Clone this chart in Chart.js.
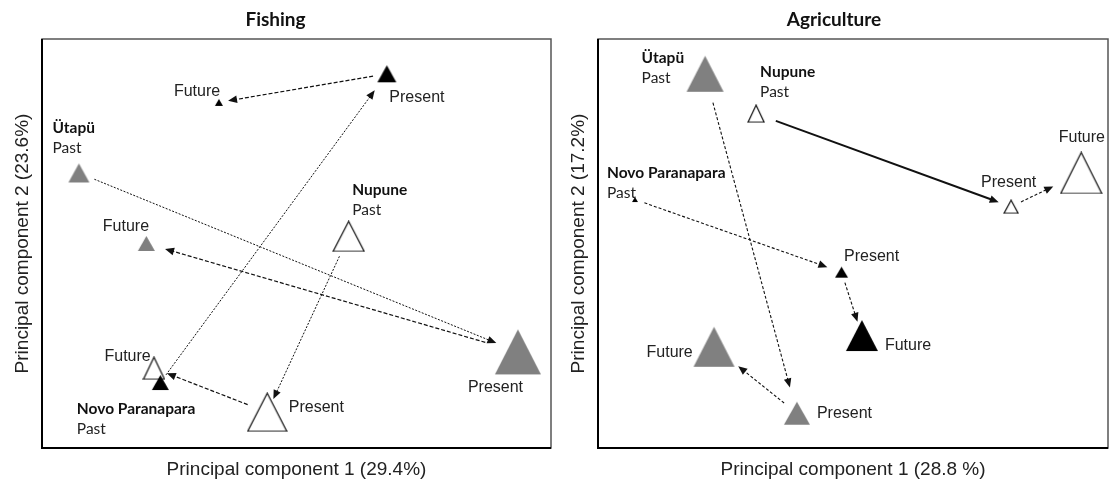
<!DOCTYPE html>
<html>
<head>
<meta charset="utf-8">
<script src="https://cdn.jsdelivr.net/npm/chart.js@4.4.1/dist/chart.umd.min.js"></script>
<style>
  body { margin: 0; background: #fff; }
  #wrap { position: relative; width: 1113px; height: 481px; }
  #fishing { position: absolute; left: 0; top: 0; }
  #agri { position: absolute; left: 556px; top: 0; }
</style>
</head>
<body>
<div id="wrap">
  <canvas id="fishing" width="556" height="481"></canvas>
  <canvas id="agri" width="557" height="481"></canvas>
</div>
<script>
// Stages and sites
const stages = ['Past', 'Present', 'Future'];
const sites = ['Novo Paranapara', 'Ütapü', 'Nupune'];

// Fishing - PCA scores, order Past, Present, Future
const fishNovoPC1 = [-1.07, 0.71, -0.61];
const fishNovoPC2 = [-1.36, 1.66, 1.38];
const fishUtapuPC1 = [-1.71, 1.74, -1.18];
const fishUtapuPC2 = [0.69, -1.06, 0.00];
const fishNupunePC1 = [0.41, -0.23, -1.12];
const fishNupunePC2 = [0.07, -1.65, -1.22];

// Agriculture - PCA scores, order Past, Present, Future
const agriNovoPC1 = [-1.71, -0.09, 0.07];
const agriNovoPC2 = [0.43, -0.28, -0.90];
const agriUtapuPC1 = [-1.16, -0.44, -1.09];
const agriUtapuPC2 = [1.66, -1.66, -1.01];
const agriNupunePC1 = [-0.76, 1.24, 1.79];
const agriNupunePC2 = [1.27, 0.36, 0.69];

// ---- looks ----
const siteFill = ['#000000', '#808080', '#ffffff'];
const siteStroke = [null, null, '#111111'];

// triangle [width, height] px, per site then stage
const fishTri = [
    [[17, 15], [19, 17], [8, 7]],
    [[21, 19], [46, 45], [17, 15]],
    [[31, 30], [39, 38], [21, 22]]
];
const agriTri = [
    [[6, 5], [13, 11], [32, 31]],
    [[37, 36], [26, 23], [41, 40]],
    [[16, 17], [14, 13], [41, 41]]
];

// stage label offset from the point [dx, dy]; site name sits 20px above "Past"
const fishLab = [
    [[-83.5, 46.5], [2.5, 23.5], [-45, -10.5]],
    [[-26.5, -24.5], [-50, 35.5], [-43.5, -16.5]],
    [[3.5, -26], [21.5, -5], [-49.5, -12]]
];
const agriLab = [
    [[-28, -7], [2.5, -16], [23, 10.5]],
    [[-63.5, 4], [20, 0.5], [-67.5, 6]],
    [[4, -21.5], [-30, -24.5], [-22.5, -35.5]]
];

// arrow gaps [from start, from end] for Past->Present and Present->Future
const fishGap = [
    [[9.5, 20.5], [14, 9.3]],
    [[16.7, 23.3], [34, 19.5]],
    [[22, 14.6], [21, 13.8]]
];
const agriGap = [
    [[10, 15], [11, 14.5]],
    [[30, 26.7], [16.4, 31]],
    [[21, 13.2], [11, 31]]
];
const fishDash = [[[2, 1.5], [4, 2]], [[2, 1.5], [4, 2]], [[2, 1.5], [4, 2]]];
const agriDash = [[[3, 2], [3, 2]], [[3, 2], [3, 2]], [[], [3, 2]]];
const fishLw = [[1, 1.2], [1, 1.2], [1, 1.2]];
const agriLw = [[1.1, 1.1], [1.1, 1.1], [2, 1.1]];

function triangle(w, h, fill, stroke) {
    const c = document.createElement('canvas');
    c.width = w + 2;
    c.height = h + 2;
    const g = c.getContext('2d');
    g.beginPath();
    g.moveTo(1 + w / 2, 1);
    g.lineTo(1 + w, 1 + h);
    g.lineTo(1, 1 + h);
    g.closePath();
    g.fillStyle = fill;
    g.fill();
    if (stroke) {
        g.strokeStyle = stroke;
        g.lineWidth = 1.2;
        g.stroke();
    }
    return c;
}

function arrow(ctx, x0, y0, x1, y1, g0, g1, dash, lw) {
    const dx = x1 - x0, dy = y1 - y0;
    const len = Math.hypot(dx, dy);
    const ux = dx / len, uy = dy / len;
    const sx = x0 + ux * g0, sy = y0 + uy * g0;
    const tx = x1 - ux * g1, ty = y1 - uy * g1;
    const head = 9, half = 3.8;
    ctx.save();
    ctx.strokeStyle = '#111';
    ctx.lineWidth = lw;
    ctx.setLineDash(dash);
    ctx.beginPath();
    ctx.moveTo(sx, sy);
    ctx.lineTo(tx - ux * head * 0.7, ty - uy * head * 0.7);
    ctx.stroke();
    ctx.setLineDash([]);
    ctx.fillStyle = '#111';
    ctx.beginPath();
    ctx.moveTo(tx, ty);
    ctx.lineTo(tx - ux * head - uy * half, ty - uy * head + ux * half);
    ctx.lineTo(tx - ux * head + uy * half, ty - uy * head - ux * half);
    ctx.closePath();
    ctx.fill();
    ctx.restore();
}

// arrows between the stages, drawn under the triangles
const arrowPlugin = {
    id: 'arrows',
    beforeDatasetsDraw(chart, args, opts) {
        const ctx = chart.ctx;
        chart.data.datasets.forEach((ds, s) => {
            const pts = chart.getDatasetMeta(s).data;
            for (let i = 0; i < pts.length - 1; i++) {
                arrow(ctx, pts[i].x, pts[i].y, pts[i + 1].x, pts[i + 1].y,
                    opts.gap[s][i][0], opts.gap[s][i][1], opts.dash[s][i], opts.lw[s][i]);
            }
        });
    }
};

// site names and stage words next to the triangles
const labelPlugin = {
    id: 'stageLabels',
    afterDatasetsDraw(chart, args, opts) {
        const ctx = chart.ctx;
        ctx.save();
        ctx.textAlign = 'left';
        ctx.textBaseline = 'middle';
        chart.data.datasets.forEach((ds, s) => {
            const pts = chart.getDatasetMeta(s).data;
            pts.forEach((p, i) => {
                const [dx, dy] = opts.off[s][i];
                if (i === 0) {
                    ctx.fillStyle = '#111';
                    ctx.font = 'bold 15.5px Lato';
                    ctx.fillText(sites[s], p.x + dx, p.y + dy - 20);
                    ctx.font = '15.5px Lato';
                    ctx.fillStyle = '#222';
                    ctx.fillText(stages[i], p.x + dx, p.y + dy);
                } else {
                    ctx.font = '16px "Liberation Sans"';
                    ctx.fillStyle = '#222';
                    ctx.fillText(stages[i], p.x + dx, p.y + dy);
                }
            });
        });
        ctx.restore();
    }
};

// box round the plot area
const framePlugin = {
    id: 'frame',
    afterDraw(chart) {
        const {left, top, right, bottom} = chart.chartArea;
        const ctx = chart.ctx;
        ctx.save();
        ctx.strokeStyle = '#555';
        ctx.lineWidth = 1.5;
        ctx.strokeRect(left, top, right - left, bottom - top);
        ctx.strokeStyle = '#000';
        ctx.lineWidth = 2;
        ctx.beginPath();
        ctx.moveTo(left, top);
        ctx.lineTo(left, bottom);
        ctx.lineTo(right, bottom);
        ctx.stroke();
        ctx.restore();
    }
};

function makePanel(id, title, xTitle, yTitle, pc1, pc2, tri, lab, gap, dash, lw, padRight) {
    const datasets = sites.map((name, s) => ({
        label: name,
        data: pc1[s].map((x, i) => ({x: x, y: pc2[s][i]})),
        showLine: false,
        pointStyle: tri[s].map(([w, h]) => triangle(w, h, siteFill[s], siteStroke[s])),
        pointRadius: 4,
        pointHoverRadius: 4
    }));

    return new Chart(document.getElementById(id), {
        type: 'scatter',
        data: {datasets: datasets},
        options: {
            responsive: false,
            animation: false,
            events: [],
            layout: {padding: {left: 0, right: padRight, top: 0, bottom: 0}},
            scales: {
                x: {
                    type: 'linear', min: -2, max: 2,
                    ticks: {display: false},
                    grid: {display: false, drawTicks: false},
                    border: {display: false},
                    title: {
                        display: true, text: xTitle, color: '#222',
                        font: {family: 'Liberation Sans', size: 19},
                        padding: {top: 10.2, bottom: 0}
                    }
                },
                y: {
                    type: 'linear', min: -2, max: 2,
                    ticks: {display: false},
                    grid: {display: false, drawTicks: false},
                    border: {display: false},
                    title: {
                        display: true, text: yTitle, color: '#222',
                        font: {family: 'Liberation Sans', size: 19},
                        padding: {top: 11.6, bottom: 7.6}
                    }
                }
            },
            plugins: {
                legend: {display: false},
                tooltip: {enabled: false},
                title: {
                    display: true, text: title, color: '#111',
                    font: {family: 'Lato', size: 19, weight: 'bold'},
                    padding: {top: 8.6, bottom: 7.6}
                },
                arrows: {gap: gap, dash: dash, lw: lw},
                stageLabels: {off: lab}
            }
        },
        plugins: [arrowPlugin, labelPlugin, framePlugin]
    });
}

makePanel('fishing', 'Fishing', 'Principal component 1 (29.4%)', 'Principal component 2 (23.6%)',
    [fishNovoPC1, fishUtapuPC1, fishNupunePC1],
    [fishNovoPC2, fishUtapuPC2, fishNupunePC2],
    fishTri, fishLab, fishGap, fishDash, fishLw, 5);

makePanel('agri', 'Agriculture', 'Principal component 1 (28.8 %)', 'Principal component 2 (17.2%)',
    [agriNovoPC1, agriUtapuPC1, agriNupunePC1],
    [agriNovoPC2, agriUtapuPC2, agriNupunePC2],
    agriTri, agriLab, agriGap, agriDash, agriLw, 1);
</script>
</body>
</html>
